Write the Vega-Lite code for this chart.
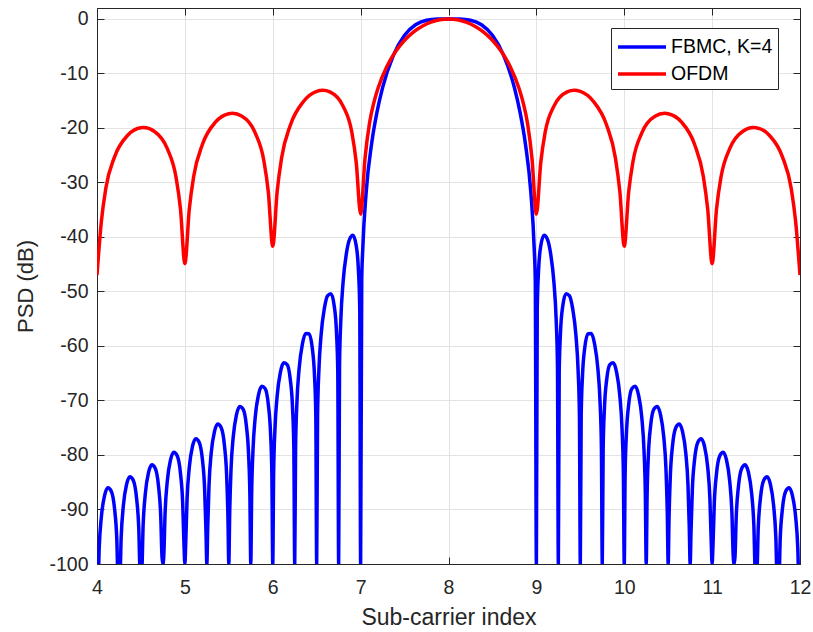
{
  "$schema": "https://vega.github.io/schema/vega-lite/v6.json",
  "width": 703,
  "height": 556,
  "autosize": {"type": "none"},
  "padding": {"left": 97, "top": 8, "right": 13, "bottom": 68},
  "background": "white",
  "config": {
    "font": "Liberation Sans",
    "view": {"stroke": "#262626", "strokeWidth": 1},
    "axis": {
      "gridColor": "#e3e3e3",
      "gridWidth": 1,
      "domainColor": "#262626",
      "tickColor": "#262626",
      "tickSize": -7,
      "labelColor": "#262626",
      "labelFontSize": 19.5,
      "labelFlush": false,
      "titleColor": "#262626",
      "titleFontSize": 22,
      "titleFontWeight": "normal"
    }
  },
  "datasets": {
    "fbmc": [
      {"x":4,"y":-100,"s":"FBMC, K=4"},{"x":4.01,"y":-105,"s":"FBMC, K=4"},{"x":4.025,"y":-97.1,"s":"FBMC, K=4"},{"x":4.05,"y":-91.3,"s":"FBMC, K=4"},{"x":4.0875,"y":-87.35,"s":"FBMC, K=4"},{"x":4.125,"y":-86,"s":"FBMC, K=4"},{"x":4.1625,"y":-86.65,"s":"FBMC, K=4"},{"x":4.2,"y":-89.9,"s":"FBMC, K=4"},{"x":4.225,"y":-95.3,"s":"FBMC, K=4"},{"x":4.24,"y":-103,"s":"FBMC, K=4"},
      {"x":4.25,"y":-100,"s":"FBMC, K=4"},{"x":4.26,"y":-103,"s":"FBMC, K=4"},{"x":4.275,"y":-95.1,"s":"FBMC, K=4"},{"x":4.3,"y":-89.3,"s":"FBMC, K=4"},{"x":4.3375,"y":-85.35,"s":"FBMC, K=4"},{"x":4.375,"y":-84,"s":"FBMC, K=4"},{"x":4.4125,"y":-84.65,"s":"FBMC, K=4"},{"x":4.45,"y":-87.9,"s":"FBMC, K=4"},{"x":4.475,"y":-93.3,"s":"FBMC, K=4"},{"x":4.49,"y":-101,"s":"FBMC, K=4"},
      {"x":4.5,"y":-100,"s":"FBMC, K=4"},{"x":4.51,"y":-100.8,"s":"FBMC, K=4"},{"x":4.525,"y":-92.9,"s":"FBMC, K=4"},{"x":4.55,"y":-87.1,"s":"FBMC, K=4"},{"x":4.5875,"y":-83.15,"s":"FBMC, K=4"},{"x":4.625,"y":-81.8,"s":"FBMC, K=4"},{"x":4.6625,"y":-82.45,"s":"FBMC, K=4"},{"x":4.7,"y":-85.7,"s":"FBMC, K=4"},{"x":4.725,"y":-91.1,"s":"FBMC, K=4"},{"x":4.74,"y":-98.8,"s":"FBMC, K=4"},
      {"x":4.75,"y":-100,"s":"FBMC, K=4"},{"x":4.76,"y":-98.5,"s":"FBMC, K=4"},{"x":4.775,"y":-90.6,"s":"FBMC, K=4"},{"x":4.8,"y":-84.8,"s":"FBMC, K=4"},{"x":4.8375,"y":-80.85,"s":"FBMC, K=4"},{"x":4.875,"y":-79.5,"s":"FBMC, K=4"},{"x":4.9125,"y":-80.15,"s":"FBMC, K=4"},{"x":4.95,"y":-83.4,"s":"FBMC, K=4"},{"x":4.975,"y":-88.8,"s":"FBMC, K=4"},{"x":4.99,"y":-96.5,"s":"FBMC, K=4"},
      {"x":5,"y":-100,"s":"FBMC, K=4"},{"x":5.01,"y":-96,"s":"FBMC, K=4"},{"x":5.025,"y":-88.1,"s":"FBMC, K=4"},{"x":5.05,"y":-82.3,"s":"FBMC, K=4"},{"x":5.0875,"y":-78.35,"s":"FBMC, K=4"},{"x":5.125,"y":-77,"s":"FBMC, K=4"},{"x":5.1625,"y":-77.65,"s":"FBMC, K=4"},{"x":5.2,"y":-80.9,"s":"FBMC, K=4"},{"x":5.225,"y":-86.3,"s":"FBMC, K=4"},{"x":5.24,"y":-94,"s":"FBMC, K=4"},
      {"x":5.25,"y":-100,"s":"FBMC, K=4"},{"x":5.26,"y":-93.3,"s":"FBMC, K=4"},{"x":5.275,"y":-85.4,"s":"FBMC, K=4"},{"x":5.3,"y":-79.6,"s":"FBMC, K=4"},{"x":5.3375,"y":-75.65,"s":"FBMC, K=4"},{"x":5.375,"y":-74.3,"s":"FBMC, K=4"},{"x":5.4125,"y":-74.95,"s":"FBMC, K=4"},{"x":5.45,"y":-78.2,"s":"FBMC, K=4"},{"x":5.475,"y":-83.6,"s":"FBMC, K=4"},{"x":5.49,"y":-91.3,"s":"FBMC, K=4"},
      {"x":5.5,"y":-100,"s":"FBMC, K=4"},{"x":5.51,"y":-90.7,"s":"FBMC, K=4"},{"x":5.525,"y":-82.7,"s":"FBMC, K=4"},{"x":5.55,"y":-76.75,"s":"FBMC, K=4"},{"x":5.5875,"y":-72.6,"s":"FBMC, K=4"},{"x":5.625,"y":-71.1,"s":"FBMC, K=4"},{"x":5.6625,"y":-71.6,"s":"FBMC, K=4"},{"x":5.7,"y":-74.65,"s":"FBMC, K=4"},{"x":5.725,"y":-79.9,"s":"FBMC, K=4"},{"x":5.74,"y":-87.5,"s":"FBMC, K=4"},
      {"x":5.75,"y":-100,"s":"FBMC, K=4"},{"x":5.76,"y":-87.2,"s":"FBMC, K=4"},{"x":5.775,"y":-79.2,"s":"FBMC, K=4"},{"x":5.8,"y":-73.2,"s":"FBMC, K=4"},{"x":5.8375,"y":-69,"s":"FBMC, K=4"},{"x":5.875,"y":-67.4,"s":"FBMC, K=4"},{"x":5.9125,"y":-67.8,"s":"FBMC, K=4"},{"x":5.95,"y":-70.8,"s":"FBMC, K=4"},{"x":5.975,"y":-76,"s":"FBMC, K=4"},{"x":5.99,"y":-83.6,"s":"FBMC, K=4"},
      {"x":6,"y":-100,"s":"FBMC, K=4"},{"x":6.01,"y":-83.35,"s":"FBMC, K=4"},{"x":6.025,"y":-75.3,"s":"FBMC, K=4"},{"x":6.05,"y":-69.2,"s":"FBMC, K=4"},{"x":6.0875,"y":-64.8,"s":"FBMC, K=4"},{"x":6.125,"y":-63.1,"s":"FBMC, K=4"},{"x":6.1625,"y":-63.4,"s":"FBMC, K=4"},{"x":6.2,"y":-66.2,"s":"FBMC, K=4"},{"x":6.225,"y":-71.3,"s":"FBMC, K=4"},{"x":6.24,"y":-78.9,"s":"FBMC, K=4"},
      {"x":6.25,"y":-100,"s":"FBMC, K=4"},{"x":6.26,"y":-78.6,"s":"FBMC, K=4"},{"x":6.275,"y":-70.4,"s":"FBMC, K=4"},{"x":6.3,"y":-64.2,"s":"FBMC, K=4"},{"x":6.3375,"y":-59.65,"s":"FBMC, K=4"},{"x":6.375,"y":-57.7,"s":"FBMC, K=4"},{"x":6.4125,"y":-57.75,"s":"FBMC, K=4"},{"x":6.45,"y":-60.4,"s":"FBMC, K=4"},{"x":6.475,"y":-65.4,"s":"FBMC, K=4"},{"x":6.49,"y":-72.8,"s":"FBMC, K=4"},
      {"x":6.5,"y":-100,"s":"FBMC, K=4"},{"x":6.51,"y":-72.8,"s":"FBMC, K=4"},{"x":6.525,"y":-64.5,"s":"FBMC, K=4"},{"x":6.55,"y":-58,"s":"FBMC, K=4"},{"x":6.5875,"y":-53.1,"s":"FBMC, K=4"},{"x":6.625,"y":-50.75,"s":"FBMC, K=4"},{"x":6.6625,"y":-50.4,"s":"FBMC, K=4"},{"x":6.7,"y":-52.7,"s":"FBMC, K=4"},{"x":6.725,"y":-57.4,"s":"FBMC, K=4"},{"x":6.74,"y":-64.7,"s":"FBMC, K=4"},
      {"x":6.75,"y":-100,"s":"FBMC, K=4"},{"x":6.76,"y":-63.6,"s":"FBMC, K=4"},{"x":6.775,"y":-55.1,"s":"FBMC, K=4"},{"x":6.8,"y":-48.4,"s":"FBMC, K=4"},{"x":6.8375,"y":-43.1,"s":"FBMC, K=4"},{"x":6.875,"y":-40.4,"s":"FBMC, K=4"},{"x":6.9125,"y":-39.7,"s":"FBMC, K=4"},{"x":6.95,"y":-41.6,"s":"FBMC, K=4"},{"x":6.975,"y":-46.1,"s":"FBMC, K=4"},{"x":6.99,"y":-53.2,"s":"FBMC, K=4"},
      {"x":7,"y":-100,"s":"FBMC, K=4"},{"x":7.0125,"y":-48,"s":"FBMC, K=4"},{"x":7.025,"y":-42,"s":"FBMC, K=4"},{"x":7.0625,"y":-31.9,"s":"FBMC, K=4"},{"x":7.125,"y":-22.9,"s":"FBMC, K=4"},{"x":7.1875,"y":-17,"s":"FBMC, K=4"},{"x":7.25,"y":-12.6,"s":"FBMC, K=4"},{"x":7.375,"y":-6.6,"s":"FBMC, K=4"},{"x":7.5,"y":-3,"s":"FBMC, K=4"},{"x":7.625,"y":-1.08,"s":"FBMC, K=4"},{"x":7.75,"y":-0.25,"s":"FBMC, K=4"},{"x":7.875,"y":-0.02,"s":"FBMC, K=4"},
      {"x":8,"y":0,"s":"FBMC, K=4"},
      {"x":8.125,"y":-0.02,"s":"FBMC, K=4"},{"x":8.25,"y":-0.25,"s":"FBMC, K=4"},{"x":8.375,"y":-1.08,"s":"FBMC, K=4"},{"x":8.5,"y":-3,"s":"FBMC, K=4"},{"x":8.625,"y":-6.6,"s":"FBMC, K=4"},{"x":8.75,"y":-12.6,"s":"FBMC, K=4"},{"x":8.8125,"y":-17,"s":"FBMC, K=4"},{"x":8.875,"y":-22.9,"s":"FBMC, K=4"},{"x":8.9375,"y":-31.9,"s":"FBMC, K=4"},{"x":8.975,"y":-42,"s":"FBMC, K=4"},{"x":8.9875,"y":-48,"s":"FBMC, K=4"},{"x":9,"y":-100,"s":"FBMC, K=4"},
      {"x":9.01,"y":-53.2,"s":"FBMC, K=4"},{"x":9.025,"y":-46.1,"s":"FBMC, K=4"},{"x":9.05,"y":-41.6,"s":"FBMC, K=4"},{"x":9.0875,"y":-39.7,"s":"FBMC, K=4"},{"x":9.125,"y":-40.4,"s":"FBMC, K=4"},{"x":9.1625,"y":-43.1,"s":"FBMC, K=4"},{"x":9.2,"y":-48.4,"s":"FBMC, K=4"},{"x":9.225,"y":-55.1,"s":"FBMC, K=4"},{"x":9.24,"y":-63.6,"s":"FBMC, K=4"},{"x":9.25,"y":-100,"s":"FBMC, K=4"},
      {"x":9.26,"y":-64.7,"s":"FBMC, K=4"},{"x":9.275,"y":-57.4,"s":"FBMC, K=4"},{"x":9.3,"y":-52.7,"s":"FBMC, K=4"},{"x":9.3375,"y":-50.4,"s":"FBMC, K=4"},{"x":9.375,"y":-50.75,"s":"FBMC, K=4"},{"x":9.4125,"y":-53.1,"s":"FBMC, K=4"},{"x":9.45,"y":-58,"s":"FBMC, K=4"},{"x":9.475,"y":-64.5,"s":"FBMC, K=4"},{"x":9.49,"y":-72.8,"s":"FBMC, K=4"},{"x":9.5,"y":-100,"s":"FBMC, K=4"},
      {"x":9.51,"y":-72.8,"s":"FBMC, K=4"},{"x":9.525,"y":-65.4,"s":"FBMC, K=4"},{"x":9.55,"y":-60.4,"s":"FBMC, K=4"},{"x":9.5875,"y":-57.75,"s":"FBMC, K=4"},{"x":9.625,"y":-57.7,"s":"FBMC, K=4"},{"x":9.6625,"y":-59.65,"s":"FBMC, K=4"},{"x":9.7,"y":-64.2,"s":"FBMC, K=4"},{"x":9.725,"y":-70.4,"s":"FBMC, K=4"},{"x":9.74,"y":-78.6,"s":"FBMC, K=4"},{"x":9.75,"y":-100,"s":"FBMC, K=4"},
      {"x":9.76,"y":-78.9,"s":"FBMC, K=4"},{"x":9.775,"y":-71.3,"s":"FBMC, K=4"},{"x":9.8,"y":-66.2,"s":"FBMC, K=4"},{"x":9.8375,"y":-63.4,"s":"FBMC, K=4"},{"x":9.875,"y":-63.1,"s":"FBMC, K=4"},{"x":9.9125,"y":-64.8,"s":"FBMC, K=4"},{"x":9.95,"y":-69.2,"s":"FBMC, K=4"},{"x":9.975,"y":-75.3,"s":"FBMC, K=4"},{"x":9.99,"y":-83.35,"s":"FBMC, K=4"},{"x":10,"y":-100,"s":"FBMC, K=4"},
      {"x":10.01,"y":-83.6,"s":"FBMC, K=4"},{"x":10.025,"y":-76,"s":"FBMC, K=4"},{"x":10.05,"y":-70.8,"s":"FBMC, K=4"},{"x":10.0875,"y":-67.8,"s":"FBMC, K=4"},{"x":10.125,"y":-67.4,"s":"FBMC, K=4"},{"x":10.1625,"y":-69,"s":"FBMC, K=4"},{"x":10.2,"y":-73.2,"s":"FBMC, K=4"},{"x":10.225,"y":-79.2,"s":"FBMC, K=4"},{"x":10.24,"y":-87.2,"s":"FBMC, K=4"},{"x":10.25,"y":-100,"s":"FBMC, K=4"},
      {"x":10.26,"y":-87.5,"s":"FBMC, K=4"},{"x":10.275,"y":-79.9,"s":"FBMC, K=4"},{"x":10.3,"y":-74.65,"s":"FBMC, K=4"},{"x":10.3375,"y":-71.6,"s":"FBMC, K=4"},{"x":10.375,"y":-71.1,"s":"FBMC, K=4"},{"x":10.4125,"y":-72.6,"s":"FBMC, K=4"},{"x":10.45,"y":-76.75,"s":"FBMC, K=4"},{"x":10.475,"y":-82.7,"s":"FBMC, K=4"},{"x":10.49,"y":-90.7,"s":"FBMC, K=4"},{"x":10.5,"y":-100,"s":"FBMC, K=4"},
      {"x":10.51,"y":-91.3,"s":"FBMC, K=4"},{"x":10.525,"y":-83.6,"s":"FBMC, K=4"},{"x":10.55,"y":-78.2,"s":"FBMC, K=4"},{"x":10.5875,"y":-74.95,"s":"FBMC, K=4"},{"x":10.625,"y":-74.3,"s":"FBMC, K=4"},{"x":10.6625,"y":-75.65,"s":"FBMC, K=4"},{"x":10.7,"y":-79.6,"s":"FBMC, K=4"},{"x":10.725,"y":-85.4,"s":"FBMC, K=4"},{"x":10.74,"y":-93.3,"s":"FBMC, K=4"},{"x":10.75,"y":-100,"s":"FBMC, K=4"},
      {"x":10.76,"y":-94,"s":"FBMC, K=4"},{"x":10.775,"y":-86.3,"s":"FBMC, K=4"},{"x":10.8,"y":-80.9,"s":"FBMC, K=4"},{"x":10.8375,"y":-77.65,"s":"FBMC, K=4"},{"x":10.875,"y":-77,"s":"FBMC, K=4"},{"x":10.9125,"y":-78.35,"s":"FBMC, K=4"},{"x":10.95,"y":-82.3,"s":"FBMC, K=4"},{"x":10.975,"y":-88.1,"s":"FBMC, K=4"},{"x":10.99,"y":-96,"s":"FBMC, K=4"},{"x":11,"y":-100,"s":"FBMC, K=4"},
      {"x":11.01,"y":-96.5,"s":"FBMC, K=4"},{"x":11.025,"y":-88.8,"s":"FBMC, K=4"},{"x":11.05,"y":-83.4,"s":"FBMC, K=4"},{"x":11.0875,"y":-80.15,"s":"FBMC, K=4"},{"x":11.125,"y":-79.5,"s":"FBMC, K=4"},{"x":11.1625,"y":-80.85,"s":"FBMC, K=4"},{"x":11.2,"y":-84.8,"s":"FBMC, K=4"},{"x":11.225,"y":-90.6,"s":"FBMC, K=4"},{"x":11.24,"y":-98.5,"s":"FBMC, K=4"},{"x":11.25,"y":-100,"s":"FBMC, K=4"},
      {"x":11.26,"y":-98.8,"s":"FBMC, K=4"},{"x":11.275,"y":-91.1,"s":"FBMC, K=4"},{"x":11.3,"y":-85.7,"s":"FBMC, K=4"},{"x":11.3375,"y":-82.45,"s":"FBMC, K=4"},{"x":11.375,"y":-81.8,"s":"FBMC, K=4"},{"x":11.4125,"y":-83.15,"s":"FBMC, K=4"},{"x":11.45,"y":-87.1,"s":"FBMC, K=4"},{"x":11.475,"y":-92.9,"s":"FBMC, K=4"},{"x":11.49,"y":-100.8,"s":"FBMC, K=4"},{"x":11.5,"y":-100,"s":"FBMC, K=4"},
      {"x":11.51,"y":-101,"s":"FBMC, K=4"},{"x":11.525,"y":-93.3,"s":"FBMC, K=4"},{"x":11.55,"y":-87.9,"s":"FBMC, K=4"},{"x":11.5875,"y":-84.65,"s":"FBMC, K=4"},{"x":11.625,"y":-84,"s":"FBMC, K=4"},{"x":11.6625,"y":-85.35,"s":"FBMC, K=4"},{"x":11.7,"y":-89.3,"s":"FBMC, K=4"},{"x":11.725,"y":-95.1,"s":"FBMC, K=4"},{"x":11.74,"y":-103,"s":"FBMC, K=4"},{"x":11.75,"y":-100,"s":"FBMC, K=4"},
      {"x":11.76,"y":-103,"s":"FBMC, K=4"},{"x":11.775,"y":-95.3,"s":"FBMC, K=4"},{"x":11.8,"y":-89.9,"s":"FBMC, K=4"},{"x":11.8375,"y":-86.65,"s":"FBMC, K=4"},{"x":11.875,"y":-86,"s":"FBMC, K=4"},{"x":11.9125,"y":-87.35,"s":"FBMC, K=4"},{"x":11.95,"y":-91.3,"s":"FBMC, K=4"},{"x":11.975,"y":-97.1,"s":"FBMC, K=4"},{"x":11.99,"y":-105,"s":"FBMC, K=4"},{"x":12,"y":-100,"s":"FBMC, K=4"}
    ],
    "ofdm": [
      {"x":4,"y":-47,"s":"OFDM"},{"x":4.05,"y":-37.1,"s":"OFDM"},{"x":4.1,"y":-31.1,"s":"OFDM"},{"x":4.2,"y":-25.3,"s":"OFDM"},{"x":4.35,"y":-21.34,"s":"OFDM"},{"x":4.5,"y":-19.97,"s":"OFDM"},{"x":4.53,"y":-19.94,"s":"OFDM"},{"x":4.65,"y":-20.6,"s":"OFDM"},{"x":4.8,"y":-23.8,"s":"OFDM"},{"x":4.9,"y":-29.1,"s":"OFDM"},{"x":4.95,"y":-34.9,"s":"OFDM"},
      {"x":5,"y":-44.9,"s":"OFDM"},{"x":5.05,"y":-34.95,"s":"OFDM"},{"x":5.1,"y":-28.9,"s":"OFDM"},{"x":5.2,"y":-23,"s":"OFDM"},{"x":5.35,"y":-18.9,"s":"OFDM"},{"x":5.5,"y":-17.4,"s":"OFDM"},{"x":5.54,"y":-17.33,"s":"OFDM"},{"x":5.65,"y":-17.86,"s":"OFDM"},{"x":5.8,"y":-20.9,"s":"OFDM"},{"x":5.9,"y":-26.1,"s":"OFDM"},{"x":5.95,"y":-31.8,"s":"OFDM"},
      {"x":6,"y":-41.7,"s":"OFDM"},{"x":6.05,"y":-31.7,"s":"OFDM"},{"x":6.1,"y":-25.55,"s":"OFDM"},{"x":6.2,"y":-19.5,"s":"OFDM"},{"x":6.35,"y":-15.15,"s":"OFDM"},{"x":6.5,"y":-13.3,"s":"OFDM"},{"x":6.57,"y":-13.1,"s":"OFDM"},{"x":6.65,"y":-13.4,"s":"OFDM"},{"x":6.8,"y":-16,"s":"OFDM"},{"x":6.9,"y":-20.8,"s":"OFDM"},{"x":6.95,"y":-26.35,"s":"OFDM"},
      {"x":7,"y":-35.8,"s":"OFDM"},{"x":7.05,"y":-25.61,"s":"OFDM"},{"x":7.1,"y":-19.23,"s":"OFDM"},{"x":7.15,"y":-15.39,"s":"OFDM"},{"x":7.2,"y":-12.62,"s":"OFDM"},{"x":7.3,"y":-8.69,"s":"OFDM"},{"x":7.4,"y":-5.94,"s":"OFDM"},{"x":7.5,"y":-3.92,"s":"OFDM"},{"x":7.6,"y":-2.42,"s":"OFDM"},{"x":7.7,"y":-1.33,"s":"OFDM"},{"x":7.8,"y":-0.58,"s":"OFDM"},{"x":7.9,"y":-0.14,"s":"OFDM"},
      {"x":8,"y":0,"s":"OFDM"},
      {"x":8.1,"y":-0.14,"s":"OFDM"},{"x":8.2,"y":-0.58,"s":"OFDM"},{"x":8.3,"y":-1.33,"s":"OFDM"},{"x":8.4,"y":-2.42,"s":"OFDM"},{"x":8.5,"y":-3.92,"s":"OFDM"},{"x":8.6,"y":-5.94,"s":"OFDM"},{"x":8.7,"y":-8.69,"s":"OFDM"},{"x":8.8,"y":-12.62,"s":"OFDM"},{"x":8.85,"y":-15.39,"s":"OFDM"},{"x":8.9,"y":-19.23,"s":"OFDM"},{"x":8.95,"y":-25.61,"s":"OFDM"},
      {"x":9,"y":-35.8,"s":"OFDM"},{"x":9.05,"y":-26.35,"s":"OFDM"},{"x":9.1,"y":-20.8,"s":"OFDM"},{"x":9.2,"y":-16,"s":"OFDM"},{"x":9.35,"y":-13.4,"s":"OFDM"},{"x":9.43,"y":-13.1,"s":"OFDM"},{"x":9.5,"y":-13.3,"s":"OFDM"},{"x":9.65,"y":-15.15,"s":"OFDM"},{"x":9.8,"y":-19.5,"s":"OFDM"},{"x":9.9,"y":-25.55,"s":"OFDM"},{"x":9.95,"y":-31.7,"s":"OFDM"},
      {"x":10,"y":-41.7,"s":"OFDM"},{"x":10.05,"y":-31.8,"s":"OFDM"},{"x":10.1,"y":-26.1,"s":"OFDM"},{"x":10.2,"y":-20.9,"s":"OFDM"},{"x":10.35,"y":-17.86,"s":"OFDM"},{"x":10.46,"y":-17.33,"s":"OFDM"},{"x":10.5,"y":-17.4,"s":"OFDM"},{"x":10.65,"y":-18.9,"s":"OFDM"},{"x":10.8,"y":-23,"s":"OFDM"},{"x":10.9,"y":-28.9,"s":"OFDM"},{"x":10.95,"y":-34.95,"s":"OFDM"},
      {"x":11,"y":-44.9,"s":"OFDM"},{"x":11.05,"y":-34.9,"s":"OFDM"},{"x":11.1,"y":-29.1,"s":"OFDM"},{"x":11.2,"y":-23.8,"s":"OFDM"},{"x":11.35,"y":-20.6,"s":"OFDM"},{"x":11.47,"y":-19.94,"s":"OFDM"},{"x":11.5,"y":-19.97,"s":"OFDM"},{"x":11.65,"y":-21.34,"s":"OFDM"},{"x":11.8,"y":-25.3,"s":"OFDM"},{"x":11.9,"y":-31.1,"s":"OFDM"},{"x":11.95,"y":-37.1,"s":"OFDM"},
      {"x":12,"y":-47,"s":"OFDM"}
    ]
  },
  "layer": [
    {
      "data": {"name": "fbmc"},
      "mark": {"type": "line", "strokeWidth": 3.5, "clip": true, "interpolate": "monotone", "strokeJoin": "round"},
      "encoding": {
        "x": {"field": "x", "type": "quantitative", "scale": {"domain": [4, 12], "nice": false, "zero": false},
          "axis": {"values": [4,5,6,7,8,9,10,11,12], "title": "Sub-carrier index", "grid": true, "labelPadding": 21, "titleY": 53, "titleBaseline": "middle", "titleFontSize": 23}},
        "y": {"field": "y", "type": "quantitative", "scale": {"domain": [-100, 2], "nice": false, "zero": false},
          "axis": {"values": [-100,-90,-80,-70,-60,-50,-40,-30,-20,-10,0], "title": "PSD (dB)", "grid": true, "labelPadding": 16, "labelExpr": "'' + datum.value", "titleX": -72, "titleY": 278, "titleAngle": 270, "titleAlign": "center", "titleBaseline": "middle"}},
        "color": {"field": "s", "type": "nominal", "scale": {"domain": ["FBMC, K=4", "OFDM"], "range": ["#0000ff", "#ff0000"]},
          "legend": {"orient": "none", "legendX": 514, "legendY": 20, "title": null, "fillColor": "white", "strokeColor": "#262626", "padding": 5, "symbolType": "M-2,0H2", "symbolSize": 576, "symbolStrokeWidth": 3.5, "symbolOffset": 12, "labelFontSize": 19.5, "labelColor": "#000000", "labelOffset": 15, "rowPadding": 3}}
      }
    },
    {
      "data": {"name": "ofdm"},
      "mark": {"type": "line", "strokeWidth": 3.5, "clip": true, "interpolate": "monotone", "strokeJoin": "round"},
      "encoding": {
        "x": {"field": "x", "type": "quantitative", "axis": null},
        "y": {"field": "y", "type": "quantitative", "axis": null},
        "color": {"field": "s", "type": "nominal"}
      }
    },
    {
      "data": {"name": "ofdm"},
      "mark": {"type": "line", "opacity": 0},
      "encoding": {
        "x": {"field": "x", "type": "quantitative", "axis": {"orient": "top", "values": [4,5,6,7,8,9,10,11,12], "labels": false, "grid": false, "title": null}},
        "y": {"field": "y", "type": "quantitative", "axis": {"orient": "right", "values": [-100,-90,-80,-70,-60,-50,-40,-30,-20,-10,0], "labels": false, "grid": false, "title": null}}
      }
    }
  ],
  "resolve": {"axis": {"x": "independent", "y": "independent"}}
}
